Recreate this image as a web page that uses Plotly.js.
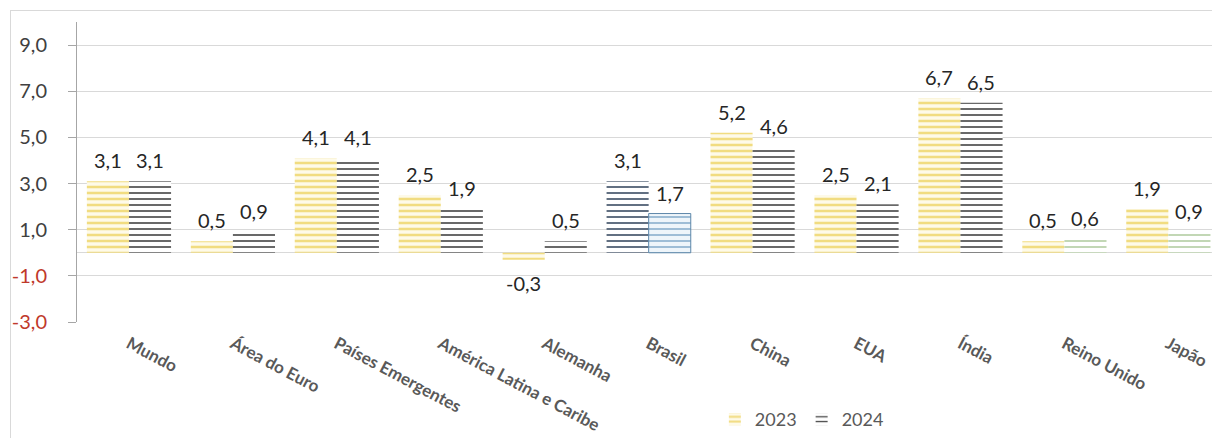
<!DOCTYPE html>
<html>
<head>
<meta charset="utf-8">
<script src="https://cdn.plot.ly/plotly-3.0.1.min.js"></script>
<style>
  html, body { margin: 0; padding: 0; background: #ffffff; overflow: hidden; }
  #frame { position: absolute; left: 10px; top: 10px; width: 1300px; height: 500px; border: 1px solid #d9d9d9; pointer-events: none; z-index: 5; }
  #chart { position: absolute; left: 0; top: 0; width: 1212px; height: 438px; }
</style>
</head>
<body>
<div id="chart"></div>
<div id="frame"></div>
<script>
// ---- data ----
const categories = ["Mundo", "Área do Euro", "Países Emergentes", "América Latina e Caribe", "Alemanha", "Brasil", "China", "EUA", "Índia", "Reino Unido", "Japão"];
const values2023 = [3.1, 0.5, 4.1, 2.5, -0.3, 3.1, 5.2, 2.5, 6.7, 0.5, 1.9];
const values2024 = [3.1, 0.9, 4.1, 1.9, 0.5, 1.7, 4.6, 2.1, 6.5, 0.6, 0.9];
const yTickValues = [-3, -1, 1, 3, 5, 7, 9];
const seriesNames = ["2023", "2024"];

// colour groups (which bars get a special colour)
const brasil = ["Brasil"];
const greens2024 = ["Reino Unido", "Japão"];

const fmt = v => v.toFixed(1).replace(".", ",");
const pick = (vals, keep) => vals.map((v, i) => keep(categories[i]) ? v : null);

function barTrace(name, vals, group, fg, bg, solidity, showlegend, line) {
  return {
    type: "bar", name: name, x: categories, y: vals, offsetgroup: group,
    showlegend: showlegend, legendgroup: name,
    marker: {
      color: bg,
      line: line || { width: 0 },
      pattern: { shape: "-", fgcolor: fg, bgcolor: bg, fgopacity: 1, size: 6, solidity: solidity, fillmode: "replace" }
    },
    hoverinfo: "none"
  };
}

const traces = [
  barTrace(seriesNames[0], pick(values2023, c => !brasil.includes(c)), "a", "#f1dc80", "#fefae8", 0.42, true),
  barTrace(seriesNames[0] + " Brasil", pick(values2023, c => brasil.includes(c)), "a", "#44546a", "#ffffff", 0.28, false),
  barTrace(seriesNames[1], pick(values2024, c => !brasil.includes(c) && !greens2024.includes(c)), "b", "#454545", "#ffffff", 0.27, true),
  barTrace(seriesNames[1] + " Brasil", pick(values2024, c => brasil.includes(c)), "b", "#8fb3cf", "#eef5fa", 0.28, false, { width: 1, color: "#5d87aa" }),
  barTrace(seriesNames[1] + " verde", pick(values2024, c => greens2024.includes(c)), "b", "#a3c38f", "#ffffff", 0.22, false)
];

const annotations = [];
[values2023, values2024].forEach((vals, si) => {
  vals.forEach((v, i) => {
    annotations.push({
      x: categories[i], y: v, xref: "x", yref: "y",
      text: fmt(v), showarrow: false,
      xshift: si === 0 ? -21 : 21,
      yshift: v >= 0 ? 21 : -23,
      font: { family: "Lato, 'Open Sans', sans-serif", size: 20, color: "#262626" }
    });
  });
});

const yTickText = yTickValues.map(v => v < 0 ? '<span style="color:#c0392b">' + fmt(v) + '</span>' : fmt(v));

const layout = {
  width: 1212, height: 438,
  margin: { l: 77, r: 0, t: 22, b: 116 },
  paper_bgcolor: "rgba(0,0,0,0)", plot_bgcolor: "#ffffff",
  barmode: "group", bargap: 0.19, bargroupgap: 0,
  separators: ",.",
  font: { family: "Lato, 'Open Sans', sans-serif", color: "#404040" },
  xaxis: {
    type: "category", range: [-0.5, 10.42],
    tickangle: 28, showgrid: false, showline: false, zeroline: false,
    ticks: "", ticklabelstandoff: 8,
    tickfont: { size: 17, color: "#595959", weight: 700 }
  },
  yaxis: {
    range: [-3, 10], tickvals: yTickValues, ticktext: yTickText,
    showgrid: true, gridcolor: "#d9d9d9", gridwidth: 1,
    zeroline: true, zerolinecolor: "#d9d9d9", zerolinewidth: 1,
    showline: true, linecolor: "#a6a6a6", linewidth: 1,
    ticks: "outside", ticklen: 8, tickcolor: "#a6a6a6", ticklabelstandoff: 17,
    tickfont: { size: 20, color: "#404040" }
  },
  showlegend: true,
  legend: {
    orientation: "h", x: 0.562, xanchor: "left", y: -0.327, yanchor: "middle",
    font: { size: 18, color: "#595959" }, itemwidth: 30, bgcolor: "rgba(0,0,0,0)",
    traceorder: "normal"
  },
  annotations: annotations
};

Plotly.newPlot("chart", traces, layout, { displayModeBar: false, staticPlot: true });
</script>
</body>
</html>
